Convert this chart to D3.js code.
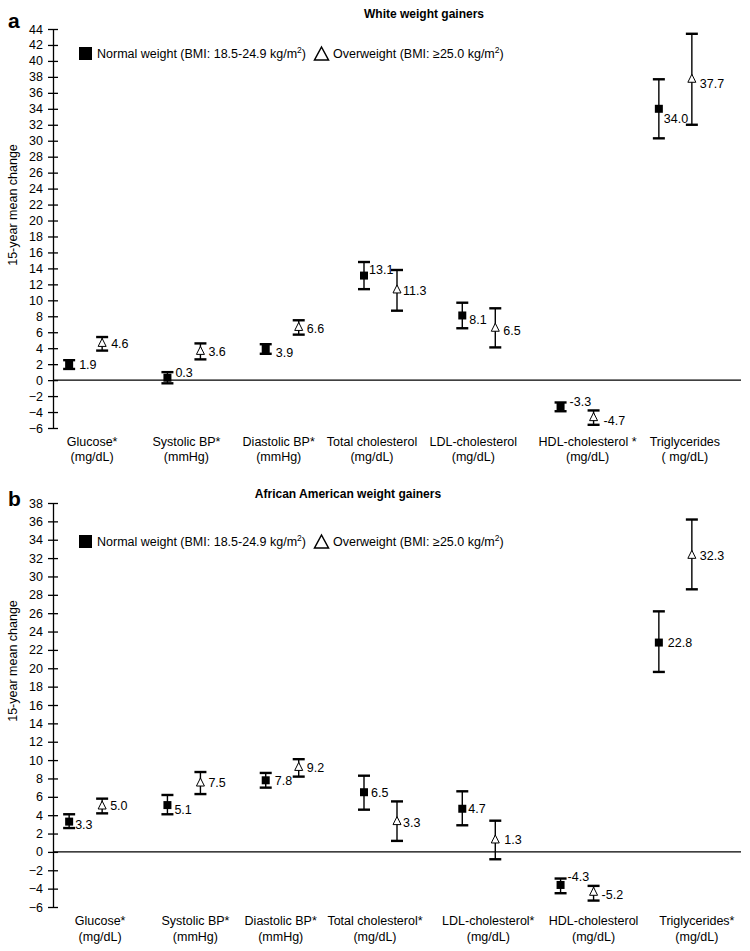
<!DOCTYPE html>
<html><head><meta charset="utf-8">
<script src="https://cdn.jsdelivr.net/npm/d3@7"></script>
<style>body{margin:0;background:#fff}text{font-family:Arial,"Liberation Sans",Helvetica,sans-serif;fill:#000}</style>
</head><body>
<svg id="c" width="750" height="951"></svg>
<script>
// ---------- DATA ----------
const categoriesTop = ["Glucose*", "Systolic BP*", "Diastolic BP*", "Total cholesterol", "LDL-cholesterol", "HDL-cholesterol *", "Triglycerides"];
const unitsTop = ["(mg/dL)", "(mmHg)", "(mmHg)", "(mg/dL)", "(mg/dL)", "(mg/dL)", "( mg/dL)"];
const normalTop = [1.9, 0.3, 3.9, 13.1, 8.1, -3.3, 34.0];
const normalTopLo = [1.4, -0.4, 3.3, 11.4, 6.5, -3.9, 30.3];
const normalTopHi = [2.5, 1.0, 4.5, 14.8, 9.7, -2.8, 37.7];
const normalTopText = ["1.9", "0.3", "3.9", "13.1", "8.1", "-3.3", "34.0"];
const overTop = [4.6, 3.6, 6.6, 11.3, 6.5, -4.7, 37.7];
const overTopLo = [3.7, 2.6, 5.7, 8.7, 4.1, -5.6, 32.0];
const overTopHi = [5.4, 4.6, 7.5, 13.8, 9.0, -3.8, 43.4];
const overTopText = ["4.6", "3.6", "6.6", "11.3", "6.5", "-4.7", "37.7"];
const yTicksTop = [-6, -4, -2, 0, 2, 4, 6, 8, 10, 12, 14, 16, 18, 20, 22, 24, 26, 28, 30, 32, 34, 36, 38, 40, 42, 44];

const categoriesBot = ["Glucose*", "Systolic BP*", "Diastolic BP*", "Total cholesterol*", "LDL-cholesterol*", "HDL-cholesterol", "Triglycerides*"];
const unitsBot = ["(mg/dL)", "(mmHg)", "(mmHg)", "(mg/dL)", "(mg/dL)", "(mg/dL)", "(mg/dL)"];
const normalBot = [3.3, 5.1, 7.8, 6.5, 4.7, -3.6, 22.8];
const normalBotLo = [2.6, 4.1, 7.0, 4.6, 2.9, -4.5, 19.6];
const normalBotHi = [4.1, 6.2, 8.6, 8.3, 6.6, -2.9, 26.2];
const normalBotText = ["3.3", "5.1", "7.8", "6.5", "4.7", "-4.3", "22.8"];
const overBot = [5.0, 7.5, 9.2, 3.3, 1.3, -4.4, 32.3];
const overBotLo = [4.2, 6.3, 8.2, 1.2, -0.8, -5.3, 28.6];
const overBotHi = [5.8, 8.7, 10.1, 5.5, 3.4, -3.7, 36.2];
const overBotText = ["5.0", "7.5", "9.2", "3.3", "1.3", "-5.2", "32.3"];
const yTicksBot = [-6, -4, -2, 0, 2, 4, 6, 8, 10, 12, 14, 16, 18, 20, 22, 24, 26, 28, 30, 32, 34, 36, 38];

// ---------- LAYOUT (label nudges, not data) ----------
const layoutTop = {
  letter: "a", title: "White weight gainers", titleX: 424, titleY: 18, letterY: 28,
  yDomain: [-6, 44], yRange: [428, 29], legendY: 47, yTitleY: 205,
  catY: 445.5,
  catDx: [-10, -14, -20, -25, -22, -6, -7],
  nDx: [10, 8, 10, 5, 7, 9, 5], nDy: [0, -5, 4, -6, 4, -5, 10],
  oDx: [9, 8, 8, 6, 8, 10, 8], oDy: [0, 0, 1, 1, 2, 3, 4]
};
const layoutBot = {
  letter: "b", title: "African American weight gainers", titleX: 348, titleY: 498, letterY: 506,
  yDomain: [-6, 38], yRange: [907, 503], legendY: 535, yTitleY: 661,
  catY: 925,
  catDx: [-2, -5, -18, -22, -7, 0, 5],
  nDx: [6, 7, 9, 7, 6, 7, 9], nDy: [3, 5, 0, 0, 0, -8, 0],
  oDx: [8, 8, 8, 6, 9, 8, 8], oDy: [0, 0, 0, 1, 0, 2, 0]
};

const svg = d3.select("#c");
const X0 = 53, X1 = 741;

function panel(cats, units, nV, nLo, nHi, nT, oV, oLo, oHi, oT, ticks, L) {
  const g = svg.append("g");
  const x = d3.scaleBand().domain(cats).range([X0, X1]);
  const y = d3.scaleLinear().domain(L.yDomain).range(L.yRange);
  const cx = c => x(c) + x.bandwidth() / 2;
  const sqOff = -33;

  // panel letter & title
  g.append("text").attr("x", 8).attr("y", L.letterY).attr("font-size", 21).attr("font-weight", "bold").text(L.letter);
  g.append("text").attr("x", L.titleX).attr("y", L.titleY).attr("text-anchor", "middle")
    .attr("font-size", 12).attr("font-weight", "bold").text(L.title);

  // y axis
  const ax = g.append("g").attr("transform", `translate(${X0},0)`)
    .call(d3.axisLeft(y).tickValues(ticks).tickSize(5).tickSizeOuter(0).tickPadding(5).tickFormat(d3.format("d")));
  ax.select(".domain").attr("stroke", "#000").attr("stroke-width", 1.3);
  ax.selectAll(".tick line").attr("x1", 5).attr("stroke", "#000").attr("stroke-width", 1.3);
  ax.selectAll(".tick text").attr("font-size", 12.5).attr("font-family", "Arial, 'Liberation Sans', sans-serif").attr("fill", "#000");

  // y title
  g.append("text").attr("transform", `translate(17,${L.yTitleY}) rotate(-90)`).attr("text-anchor", "middle")
    .attr("font-size", 12.5).text("15-year mean change");

  // zero line
  g.append("line").attr("x1", X0).attr("x2", X1).attr("y1", y(0)).attr("y2", y(0))
    .attr("stroke", "#000").attr("stroke-width", 1.3);

  // category labels
  cats.forEach((c, i) => {
    const t = g.append("text").attr("text-anchor", "middle").attr("font-size", 12.5);
    t.append("tspan").attr("x", cx(c) + L.catDx[i]).attr("y", L.catY).text(c);
    t.append("tspan").attr("x", cx(c) + L.catDx[i]).attr("y", L.catY + 15.5).text(units[i]);
  });

  // error bars
  function bars(vals, lo, hi, off) {
    cats.forEach((c, i) => {
      const px = cx(c) + off;
      g.append("line").attr("x1", px).attr("x2", px).attr("y1", y(lo[i])).attr("y2", y(hi[i]))
        .attr("stroke", "#000").attr("stroke-width", 1.4);
      [lo[i], hi[i]].forEach(v => g.append("line").attr("x1", px - 6).attr("x2", px + 6)
        .attr("y1", y(v)).attr("y2", y(v)).attr("stroke", "#000").attr("stroke-width", 2.4));
    });
  }
  bars(nV, nLo, nHi, sqOff);
  bars(oV, oLo, oHi, 0);

  // markers
  cats.forEach((c, i) => {
    const px = cx(c) + sqOff, py = y(nV[i]);
    g.append("rect").attr("x", px - 4).attr("y", py - 4).attr("width", 8).attr("height", 8).attr("fill", "#000");
    g.append("text").attr("x", px + L.nDx[i]).attr("y", py + L.nDy[i]).attr("dy", "0.35em")
      .attr("font-size", 12.5).text(nT[i]);
  });
  cats.forEach((c, i) => {
    const px = cx(c), py = y(oV[i]);
    g.append("path").attr("d", `M${px},${py - 5}L${px + 4},${py + 3}L${px - 4},${py + 3}Z`)
      .attr("fill", "#fff").attr("stroke", "#000").attr("stroke-width", 1);
    g.append("text").attr("x", px + L.oDx[i]).attr("y", py + L.oDy[i]).attr("dy", "0.35em")
      .attr("font-size", 12.5).text(oT[i]);
  });

  // legend
  const ly = L.legendY;
  g.append("rect").attr("x", 79).attr("y", ly).attr("width", 13).attr("height", 13).attr("fill", "#000");
  const t1 = g.append("text").attr("x", 97).attr("y", ly + 11).attr("font-size", 12.5);
  t1.append("tspan").text("Normal weight (BMI: 18.5-24.9 kg/m");
  t1.append("tspan").attr("font-size", 8.5).attr("dy", -5).text("2");
  t1.append("tspan").attr("dy", 5).text(")");
  g.append("path").attr("d", `M321.5,${ly}L328.5,${ly + 13}L314.5,${ly + 13}Z`)
    .attr("fill", "#fff").attr("stroke", "#000").attr("stroke-width", 1.5);
  const t2 = g.append("text").attr("x", 333).attr("y", ly + 11).attr("font-size", 12.5);
  t2.append("tspan").text("Overweight (BMI: \u226525.0 kg/m");
  t2.append("tspan").attr("font-size", 8.5).attr("dy", -5).text("2");
  t2.append("tspan").attr("dy", 5).text(")");
}

panel(categoriesTop, unitsTop, normalTop, normalTopLo, normalTopHi, normalTopText,
  overTop, overTopLo, overTopHi, overTopText, yTicksTop, layoutTop);
panel(categoriesBot, unitsBot, normalBot, normalBotLo, normalBotHi, normalBotText,
  overBot, overBotLo, overBotHi, overBotText, yTicksBot, layoutBot);
</script>
</body></html>
